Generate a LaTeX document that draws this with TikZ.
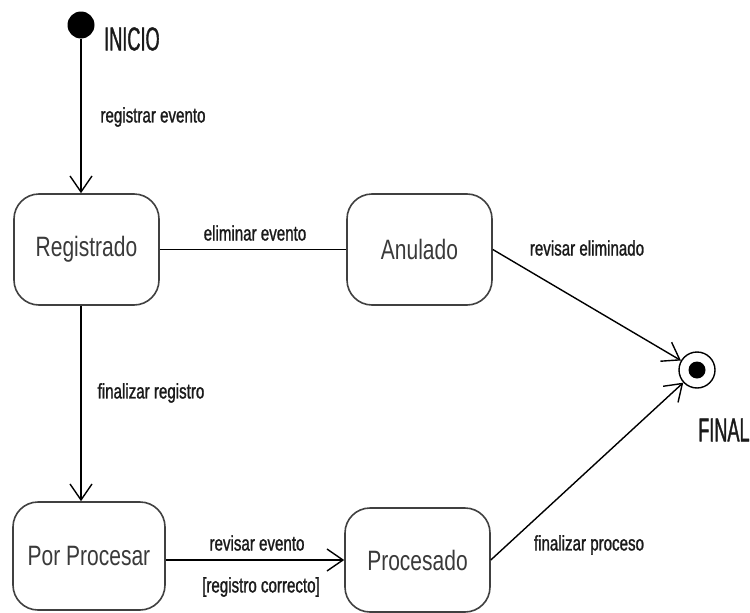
\documentclass[tikz,border=0pt]{standalone}
\usepackage{fontspec}
\setmainfont{Liberation Sans}
\newfontfamily\statefont[FakeStretch=0.75]{Liberation Sans}
\newfontfamily\labelfont[FakeStretch=0.72,FakeBold=1.2]{Liberation Sans}
\newfontfamily\bigfont[FakeStretch=0.55,FakeBold=1]{Liberation Sans}
\usetikzlibrary{arrows.meta,calc}
\definecolor{boxline}{HTML}{404040}
\definecolor{statetext}{HTML}{3A3A3A}
\definecolor{labeltext}{HTML}{1A1A1A}
\tikzset{
  statebox/.style={draw=boxline, line width=1.6pt, rounded corners=25pt,
    text=statetext, font=\statefont\fontsize{28}{32}\selectfont,
    inner sep=0pt, minimum width=145pt, minimum height=111pt},
  trans/.style={draw=black, line width=1.4pt,
    -{Straight Barb[length=16pt,width=22pt,line width=1.4pt]}},
  plainline/.style={draw=black, line width=1.4pt},
  lbl/.style={text=labeltext, font=\labelfont\fontsize{21}{24}\selectfont, inner sep=0pt},
  biglbl/.style={text=labeltext, font=\bigfont\fontsize{33}{36}\selectfont, inner sep=0pt},
}
\begin{document}
\begin{tikzpicture}[x=1pt,y=-1pt]
\useasboundingbox (0,0) rectangle (750,613);
% states
\node[statebox] (reg) at (86.5,249.5) {Registrado};
\node[statebox] (anu) at (419.5,249.5) {Anulado};
\node[statebox, minimum width=152pt, minimum height=108pt] (por) at (89,556) {Por Procesar};
\node[statebox, minimum height=104pt] (pro) at (417.5,560) {Procesado};
% initial and final
\node[circle, fill=black, inner sep=0pt, minimum size=27pt] (ini) at (81,25) {};
\node[circle, draw=black, line width=1.4pt, fill=white, inner sep=0pt, minimum size=36pt] (fin) at (697,370) {};
\node[circle, fill=black, inner sep=0pt, minimum size=17pt] (findot) at (fin) {};
% texts
\node[biglbl, anchor=west] (inicio) at (104,39) {INICIO};
\node[biglbl, anchor=west] (final) at (698,430) {FINAL};
% connectors
\draw[trans] (ini) -- (ini |- reg.north);
\draw[plainline] (reg.east) -- (anu.west);
\draw[trans] (ini |- reg.south) -- (ini |- por.north);
\draw[trans] (por.east |- pro.west) -- (pro.west);
\draw[trans] (anu.east) -- (fin);
\draw[trans] (pro.east) -- (fin);
% labels
\node[lbl] (l1) at (153,117) {registrar evento};
\node[lbl] (l2) at (255,233) {eliminar evento};
\node[lbl] (l3) at (151,393) {finalizar registro};
\node[lbl] (l4) at (587,248) {revisar eliminado};
\node[lbl] (l5) at (257,543) {revisar evento};
\node[lbl] (l6) at (261,587) {[registro correcto]};
\node[lbl] (l7) at (589,545) {finalizar proceso};
\end{tikzpicture}
\end{document}
